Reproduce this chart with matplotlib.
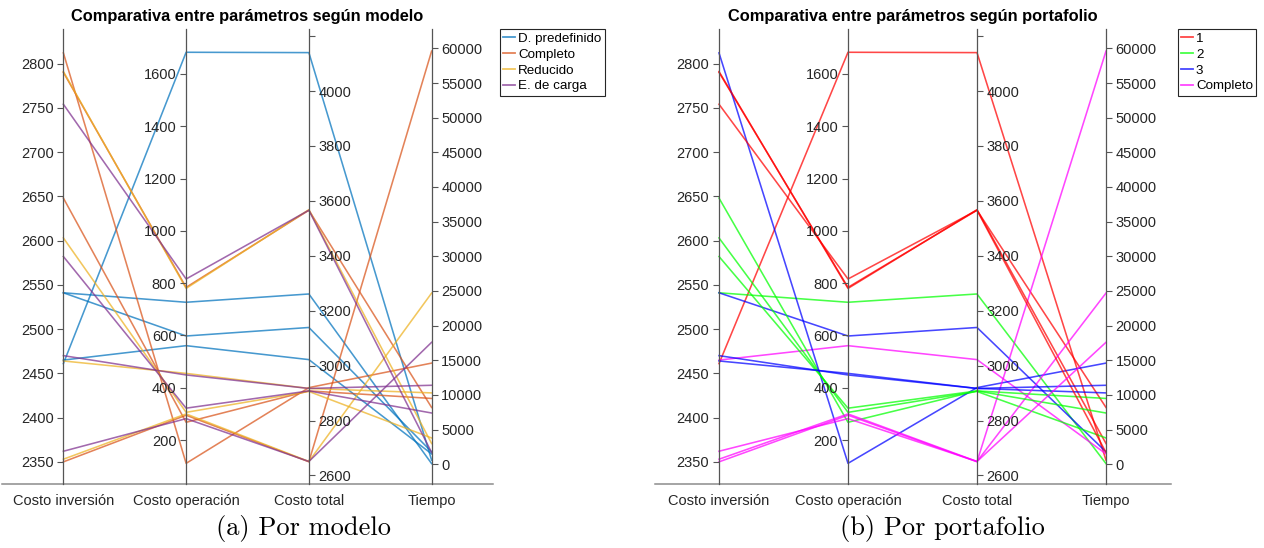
import numpy as np
import matplotlib
matplotlib.use("Agg")
import matplotlib.pyplot as plt
from matplotlib.lines import Line2D

plt.rcParams["font.family"] = ["Liberation Sans", "DejaVu Sans"]

variables = ["Costo inversión", "Costo operación", "Costo total", "Tiempo"]
modelos = ["D. predefinido", "Completo", "Reducido", "E. de carga"]
portafolios = ["1", "2", "3", "Completo"]

# one row per (modelo, portafolio) run
fila_modelo = [0, 0, 0, 0, 1, 1, 1, 1, 2, 2, 2, 2, 3, 3, 3, 3]
fila_portafolio = [0, 1, 2, 3, 0, 1, 2, 3, 0, 1, 2, 3, 0, 1, 2, 3]
costo_inversion = [2461, 2541, 2541, 2465,
                   2790, 2648, 2812, 2350,
                   2791, 2603, 2464, 2353,
                   2754, 2582, 2470, 2362]
costo_operacion = [1683, 727, 598, 561,
                   784, 268, 111, 295,
                   780, 306, 455, 300,
                   816, 322, 449, 282]
costo_total = [4140, 3261, 3139, 3022,
               3566, 2908, 2920, 2650,
               3568, 2906, 2917, 2651,
               3566, 2908, 2917, 2651]
tiempo = [600, 100, 1800, 1500,
          8200, 9500, 14600, 59600,
          3000, 3800, 10300, 24700,
          1700, 7400, 11400, 17600]

# axis ranges and ticks of each vertical axis
limites = [(2325, 2839), (32, 1772), (2569, 4226), (-2840, 62790)]
ticks = [list(range(2350, 2801, 50)),
         list(range(200, 1601, 200)),
         list(range(2600, 4201, 200)),
         list(range(0, 60001, 5000))]
tick_labels = [[str(t) for t in ticks[0]],
               [str(t) for t in ticks[1]],
               [str(t) for t in ticks[2][:-1]] + [""],
               [str(t) for t in ticks[3]]]

colores_modelo = ["#0072BD", "#D95319", "#EDB120", "#7E2F8E"]
colores_portafolio = ["#FF0000", "#00FF00", "#0000FF", "#FF00FF"]

W, H = 1264, 548
TXT = "#262626"


def panel(fig, x0, x1, grupo, nombres, colores, titulo, leyenda_x, caption, caption_x):
    top, bottom = 29, 484
    rect = [x0 / W, 1 - bottom / H, (x1 - x0) / W, (bottom - top) / H]

    ax = fig.add_axes(rect)
    ax.set_xlim(-0.5, 3.5)
    ax.set_ylim(0, 1)
    datos = np.column_stack([costo_inversion, costo_operacion, costo_total, tiempo]).astype(float)
    lo = np.array([l[0] for l in limites])
    hi = np.array([l[1] for l in limites])
    norm = (datos - lo) / (hi - lo)
    for k in range(len(datos)):
        ax.plot(range(4), norm[k], color=colores[grupo[k]], lw=1.15, alpha=0.72)
    for s in ["top", "left", "right"]:
        ax.spines[s].set_visible(False)
    ax.spines["bottom"].set_color("#8c8c8c")
    ax.spines["bottom"].set_linewidth(1.1)
    ax.set_yticks([])
    ax.set_xticks(range(4))
    ax.set_xticklabels(variables)
    ax.tick_params(axis="x", length=0, pad=7, labelsize=10.5, labelcolor=TXT)
    ax.set_title(titulo, fontweight="bold", fontsize=11.8, pad=6, color="black")

    for i, (a, b) in enumerate(limites):
        vax = fig.add_axes(rect)
        vax.patch.set_visible(False)
        vax.set_ylim(a, b)
        vax.set_xticks([])
        for s in vax.spines.values():
            s.set_visible(False)
        lado = "left" if i < 2 else "right"
        sp = vax.spines[lado]
        sp.set_visible(True)
        sp.set_position(("axes", (i + 0.5) / 4))
        sp.set_color("#555555")
        sp.set_linewidth(0.9)
        vax.yaxis.set_ticks_position(lado)
        vax.yaxis.set_label_position(lado)
        vax.set_yticks(ticks[i])
        vax.set_yticklabels(tick_labels[i])
        vax.tick_params(axis="y", direction="out", length=4, width=0.8,
                        color="#555555", labelcolor=TXT, labelsize=10.5, pad=3)

    handles = [Line2D([], [], color=c, lw=1.3, alpha=0.72) for c in colores]
    leg = fig.legend(handles, nombres, loc="upper left",
                     bbox_to_anchor=(leyenda_x / W, 1 - top / H),
                     frameon=True, fancybox=False, edgecolor=TXT, framealpha=1,
                     fontsize=9.6, handlelength=0.9, handletextpad=0.2,
                     labelspacing=0.27, borderpad=0.25, borderaxespad=0)
    leg.get_frame().set_linewidth(0.8)

    fig.text(caption_x / W, 1 - 528 / H, caption, ha="center", va="center",
             family="cmr10", fontsize=19)


fig = plt.figure(figsize=(W / 100, H / 100), dpi=100)
panel(fig, 2, 493, fila_modelo, modelos, colores_modelo,
      "Comparativa entre parámetros según modelo", 500, "(a) Por modelo", 303)
panel(fig, 654.5, 1170.5, fila_portafolio, portafolios, colores_portafolio,
      "Comparativa entre parámetros según portafolio", 1178, "(b) Por portafolio", 942)
fig.savefig("out.png", dpi=100)
